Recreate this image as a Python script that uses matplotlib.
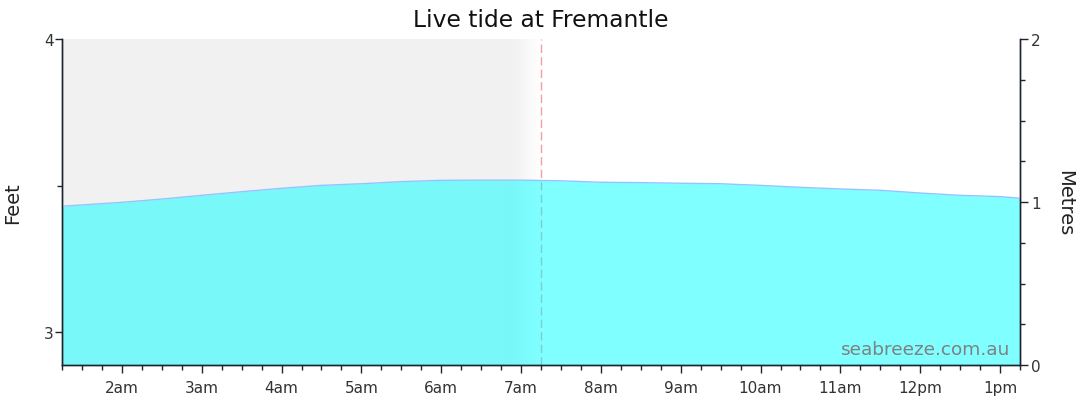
import numpy as np
import matplotlib
matplotlib.use("Agg")
import matplotlib.pyplot as plt
from matplotlib.ticker import FixedLocator, MultipleLocator

# tide heights (metres), time in hours after midnight
times = [1.25, 2.0, 2.5, 3.0, 3.5, 4.0, 4.5, 5.0, 5.5, 6.0, 6.5, 7.0, 7.5, 8.0,
         8.5, 9.0, 9.5, 10.0, 10.5, 11.0, 11.5, 12.0, 12.5, 13.0, 13.25]
heights = [0.974, 0.998, 1.018, 1.041, 1.063, 1.084, 1.102, 1.112, 1.125, 1.133,
           1.134, 1.134, 1.130, 1.121, 1.119, 1.115, 1.112, 1.102, 1.090, 1.080,
           1.072, 1.055, 1.041, 1.033, 1.023]
hour_ticks = [2, 3, 4, 5, 6, 7, 8, 9, 10, 11, 12, 13]
hour_labels = ['2am', '3am', '4am', '5am', '6am', '7am', '8am', '9am', '10am',
               '11am', '12pm', '1pm']
now = 7.25
feet_ticks = [3, 4]
metre_ticks = [0, 1, 2]

spine_col = '#1c2430'
text_col = '#333333'

fig = plt.figure(figsize=(10.8, 4.14), dpi=100)
ax = fig.add_axes([62 / 1080, 48 / 414, 958 / 1080, 326 / 414])
axl = ax.twinx()

x0, x1 = times[0], times[-1]

# past (shaded) part of the window, fading out just before "now"
fade_start = 6.85
ax.axvspan(x0, fade_start, color='#f1f1f1', lw=0, zorder=0)
grad = np.zeros((1, 60, 4))
grad[..., :3] = 0.945
grad[0, :, 3] = np.linspace(1, 0, 60)
ax.imshow(grad, extent=[fade_start, now, 0, 2], aspect='auto', zorder=0)

ax.axvline(now, color='#f4a0a0', lw=1, dashes=(6, 3), zorder=1)

ax.fill_between(times, 0, heights, color='#00ffff', alpha=0.5, lw=0, zorder=2)
ax.plot(times, heights, color='#94c4ff', lw=1, zorder=3)

ax.set_xlim(x0, x1)
ax.set_ylim(0, 2)

# metres on the right
ax.yaxis.tick_right()
ax.set_yticks(metre_ticks)
ax.yaxis.set_minor_locator(MultipleLocator(0.25))

ax.set_xticks(hour_ticks)
ax.set_xticklabels(hour_labels)
ax.xaxis.set_minor_locator(MultipleLocator(0.25))

# feet on the left
axl.yaxis.tick_left()
axl.set_ylim(2.8874, 4)
axl.set_yticks(feet_ticks)
axl.yaxis.set_minor_locator(FixedLocator([3.5]))

for a in (ax, axl):
    a.spines['top'].set_visible(False)
    for s in ('left', 'right', 'bottom'):
        a.spines[s].set_color(spine_col)
        a.spines[s].set_linewidth(1)
    a.tick_params(which='major', length=6, width=1, color=spine_col,
                  labelsize=11, labelcolor=text_col)
    a.tick_params(which='minor', length=3.5, width=1, color=spine_col)
axl.tick_params(axis='y', which='major', length=5, pad=1)
ax.tick_params(axis='y', pad=2)
ax.tick_params(axis='x', pad=5)

fig.text(13 / 1080, 1 - 203 / 414, 'Feet', rotation=90, ha='center',
         va='center', fontsize=14, color='#222222')
fig.text(1065 / 1080, 1 - 203 / 414, 'Metres', rotation=270, ha='center',
         va='center', fontsize=14, color='#222222')

ax.text(0.99, 0.02, 'seabreeze.com.au', transform=ax.transAxes, ha='right',
        va='bottom', fontsize=13.3, color='#808080', zorder=5)

fig.suptitle('Live tide at Fremantle', x=541 / 1080, y=0.978, va='top',
             fontsize=16.8, color='#111111')

fig.savefig('out.png', dpi=100)
